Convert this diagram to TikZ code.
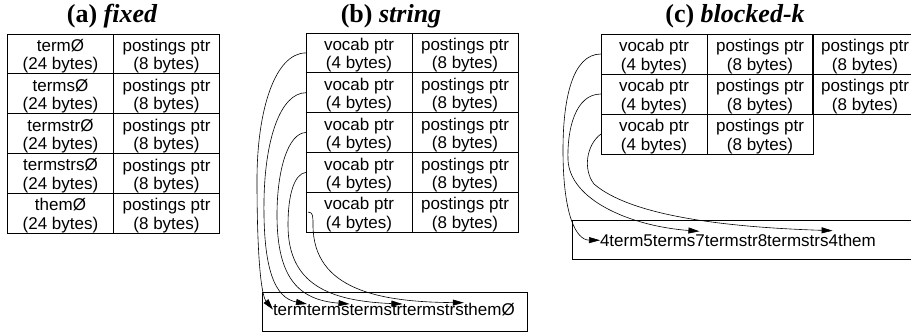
\documentclass[tikz,border=0pt]{standalone}
\usepackage{fontspec}
\usetikzlibrary{arrows.meta}
\newfontfamily\cellfamily{Liberation Sans}
\newfontfamily\headfamily{Liberation Serif}
\newcommand{\cellsize}{\fontsize{17}{18.3}\selectfont}
\newcommand{\headsize}{\fontsize{26}{28}\selectfont}

\begin{document}
\begin{tikzpicture}[x=1pt,y=-1pt,
  cell/.style={draw, line width=0.9pt, anchor=north west, minimum width=106pt,
    minimum height=39.8pt, inner sep=0pt, outer sep=0pt},
  celltext/.style={font=\cellfamily\cellsize, align=center, inner sep=0pt},
  heading/.style={font=\headfamily\headsize\bfseries, anchor=base},
  strbox/.style={draw, line width=0.9pt, anchor=north west, inner sep=0pt, outer sep=0pt},
  word/.style={font=\cellfamily\cellsize, inner sep=0pt, outer sep=0pt, anchor=base west},
  ptr/.style={line width=0.6pt, -{Triangle[length=11pt,width=6pt]}},
]
\useasboundingbox (0,0) rectangle (911,333);
\clip (0,0) rectangle (911,333);

% ---------- headings ----------
\node[heading] (ha) at (112,22) {(a) \itshape fixed};
\node[heading] (hb) at (391,22) {(b) \itshape string};
\node[heading] (hc) at (735,22) {(c) \itshape blocked-k};

% ---------- (a) fixed-width entries ----------
\foreach \r/\t in {1/termØ, 2/termsØ, 3/termstrØ, 4/termstrsØ, 5/themØ} {
  \node[cell] (ak\r) at (7.5,{34+(\r-1)*39.8}) {};
  \node[cell] (ap\r) at (113.5,{34+(\r-1)*39.8}) {};
  \node[celltext] (akt\r) at ([yshift=-2.5pt]ak\r.center) {\t\\(24 bytes)};
  \node[celltext] (apt\r) at ([yshift=-2.5pt]ap\r.center) {postings ptr\\(8 bytes)};
}

% ---------- (b) string: pointers into one term string ----------
\foreach \r in {1,...,5} {
  \node[cell] (bk\r) at (306,{33+(\r-1)*39.8}) {};
  \node[cell] (bp\r) at (412,{33+(\r-1)*39.8}) {};
  \node[celltext] (bkt\r) at ([yshift=-2.5pt]bk\r.center) {vocab ptr\\(4 bytes)};
  \node[celltext] (bpt\r) at ([yshift=-2.5pt]bp\r.center) {postings ptr\\(8 bytes)};
}
\node[strbox, minimum width=265pt, minimum height=39pt] (bstr) at (262,292) {};
\node[word] (bw1) at (273,315) {term};
\node[word] (bw2) at (bw1.base east) {terms};
\node[word] (bw3) at (bw2.base east) {termstr};
\node[word] (bw4) at (bw3.base east) {termstrs};
\node[word] (bw5) at (bw4.base east) {themØ};

\draw[ptr] (bk1.west) .. controls (275,53) and (257,110) .. (257,180)
  .. controls (257,255) and (261,295) .. (bw1.west);
\draw[ptr] (bk2.west) .. controls (280,93) and (265,140) .. (264,200)
  .. controls (263,270) and (275,298) .. (bw2.north west);
\draw[ptr] (bk3.west) .. controls (288,133) and (277,170) .. (277,215)
  .. controls (277,280) and (300,300) .. (bw3.north west);
\draw[ptr] (bk4.west) .. controls (294,174) and (288,195) .. (288,225)
  .. controls (288,285) and (330,301) .. (bw4.north west);
\draw[ptr] ([xshift=2pt]bk5.west) .. controls (313,212) and (313,216) .. (313,225)
  .. controls (313,290) and (380,302) .. (bw5.north west);

% ---------- (c) blocked-k: one vocab ptr per block ----------
\foreach \r in {1,2,3} {
  \node[cell, minimum height=40pt] (ck\r) at (601,{34+(\r-1)*40}) {};
  \node[cell, minimum height=40pt] (cp\r) at (707,{34+(\r-1)*40}) {};
  \node[celltext] (ckt\r) at ([yshift=-2.5pt]ck\r.center) {vocab ptr\\(4 bytes)};
  \node[celltext] (cpt\r) at ([yshift=-2.5pt]cp\r.center) {postings ptr\\(8 bytes)};
}
\foreach \r in {1,2} {
  \node[cell, minimum height=40pt] (cq\r) at (812,{34+(\r-1)*40}) {};
  \node[celltext] (cqt\r) at ([yshift=-2.5pt]cq\r.center) {postings ptr\\(8 bytes)};
}
\node[strbox, minimum width=360pt, minimum height=39pt] (cstr) at (572,220) {};
\node[word] (cw1) at (600,246) {4term};
\node[word] (cw2) at (cw1.base east) {5terms};
\node[word] (cw3) at (cw2.base east) {7termstr};
\node[word] (cw4) at (cw3.base east) {8termstrs};
\node[word] (cw5) at (cw4.base east) {4them};

\draw[ptr] (ck1.west) .. controls (572,54) and (563,100) .. (563,150)
  .. controls (563,215) and (576,240) .. (cw1.west);
\draw[ptr] (ck2.west) .. controls (575,94) and (567,130) .. (568,160)
  .. controls (570,200) and (630,226) .. ([xshift=4pt,yshift=3pt]cw3.north west);
\draw[ptr] (ck3.west) .. controls (586,145) and (583,170) .. (594,184)
  .. controls (630,215) and (720,227) .. ([xshift=4pt,yshift=3pt]cw5.north west);
\end{tikzpicture}
\end{document}
